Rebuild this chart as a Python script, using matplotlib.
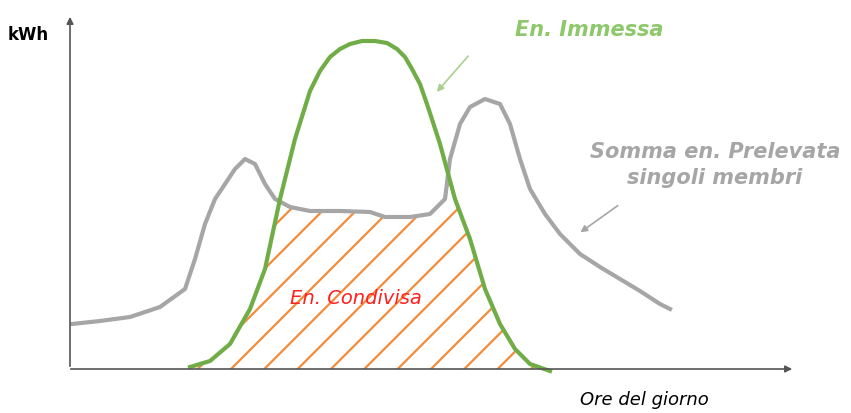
import numpy as np
import matplotlib
matplotlib.use("Agg")
import matplotlib.pyplot as plt

# curves in picture units (x across, y = height above the time axis)
prel_x = [72, 100, 130, 160, 185, 195, 205, 215, 225, 235, 245, 255, 265, 275, 290, 310, 340, 370, 385,
          410, 430, 445, 450, 460, 470, 485, 500, 510, 520, 530, 545, 560, 580, 600, 620, 640, 660, 670]
prel_y = [45, 48, 52, 62, 80, 110, 145, 170, 185, 200, 210, 205, 185, 170, 162, 158, 158, 157, 152,
          152, 155, 170, 210, 245, 262, 270, 265, 245, 210, 180, 155, 135, 115, 102, 90, 78, 65, 60]
imm_x = [190, 210, 230, 250, 265, 280, 295, 310, 320, 330, 340, 350, 362, 375, 387, 397, 405, 412,
         420, 428, 440, 455, 470, 485, 500, 515, 530, 550]
imm_y = [2, 8, 25, 60, 100, 170, 230, 278, 298, 312, 320, 325, 328, 328, 326, 320, 312, 300,
         285, 262, 225, 170, 130, 80, 45, 20, 5, -2]

plt.rcParams["hatch.linewidth"] = 1.6
fig = plt.figure(figsize=(8.51, 4.14), dpi=100)
ax = fig.add_axes([0, 0, 1, 1])
ax.set_xlim(0, 851)
ax.set_ylim(-44, 370)
ax.axis("off")

xs = np.linspace(190, 550, 400)
top = np.minimum(np.interp(xs, imm_x, imm_y), np.interp(xs, prel_x, prel_y))
ax.fill_between(xs, 0, np.clip(top, 0, None), facecolor="none", edgecolor="#f28c3c",
                hatch="/", linewidth=0)

ax.plot(prel_x, prel_y, color="#a6a6a6", lw=3, solid_joinstyle="round")
ax.plot(imm_x, imm_y, color="#70ad47", lw=3, solid_joinstyle="round")

ax.annotate("", xy=(70, 355), xytext=(70, 0), arrowprops=dict(arrowstyle="-|>", color="#555", lw=1.2))
ax.annotate("", xy=(795, 0), xytext=(68, 0), arrowprops=dict(arrowstyle="-|>", color="#555", lw=1.2))

ax.text(8, 335, "kWh", fontsize=12, fontweight="bold", va="center")
ax.text(515, 340, "En. Immessa", fontsize=15, fontweight="bold", style="italic", color="#8dc86a", va="center")
ax.annotate("", xy=(435, 275), xytext=(470, 315), arrowprops=dict(arrowstyle="-|>", color="#a9d08e", lw=1.2))
ax.text(715, 205, "Somma en. Prelevata\nsingoli membri", fontsize=15, fontweight="bold", style="italic",
        color="#a6a6a6", ha="center", va="center", linespacing=1.4)
ax.annotate("", xy=(578, 135), xytext=(620, 165), arrowprops=dict(arrowstyle="-|>", color="#a6a6a6", lw=1.2))
ax.text(290, 72, "En. Condivisa", fontsize=14, style="italic", color="#ff2020", va="center")
ax.text(580, -30, "Ore del giorno", fontsize=13, style="italic", va="center")

fig.savefig("out.png")
